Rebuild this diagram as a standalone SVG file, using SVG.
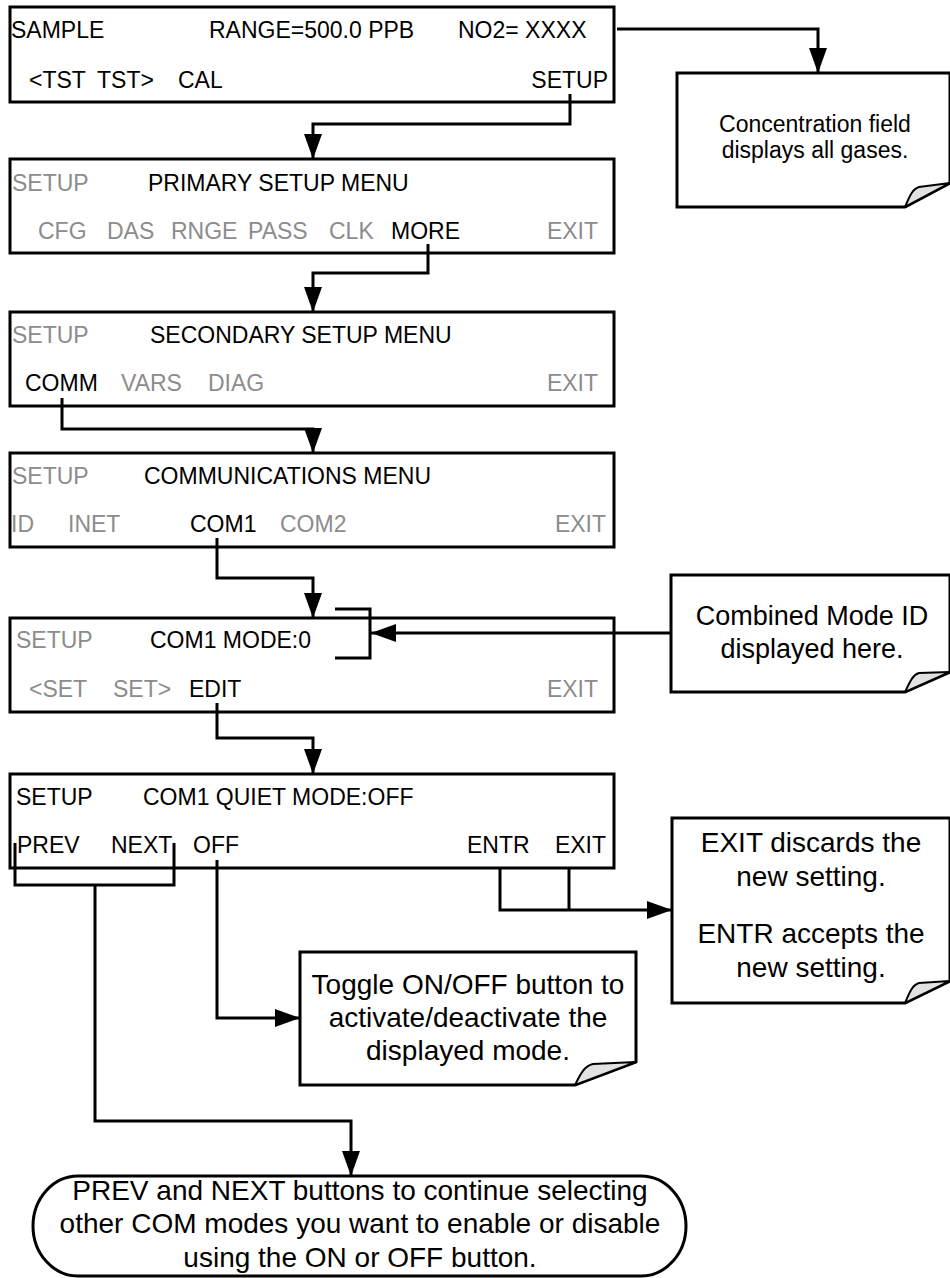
<svg xmlns="http://www.w3.org/2000/svg" width="950" height="1278" viewBox="0 0 950 1278">
<style>
text{font-family:"Liberation Sans",Arial,sans-serif;fill:#000}
.b{font-size:23px}
.g{fill:#8c8c8c}
.box{fill:#fff;stroke:#000;stroke-width:3}
.ln{fill:none;stroke:#000;stroke-width:3}
.curl{fill:#e2e2e2;stroke:#000;stroke-width:2;stroke-linejoin:round}
.c1{font-size:23px}
.c2{font-size:27px}
.c3{font-size:28px}
</style>
<defs>
<marker id="ah" viewBox="0 0 25 18" refX="25" refY="9" markerWidth="25" markerHeight="18" markerUnits="userSpaceOnUse" orient="auto">
<path d="M0,0 L25,9 L0,18 Z" fill="#000"/>
</marker>
</defs>

<g id="box-sample">
<rect class="box" x="10" y="7" width="604" height="95"/>
<text class="b" x="11" y="38">SAMPLE</text>
<text class="b" x="209" y="38">RANGE=500.0 PPB</text>
<text class="b" x="458" y="38">NO2= XXXX</text>
<text class="b" x="29" y="88">&lt;TST</text>
<text class="b" x="97" y="88">TST&gt;</text>
<text class="b" x="178" y="88">CAL</text>
<text class="b" x="608" y="88" text-anchor="end">SETUP</text>
</g>

<g id="box-primary">
<rect class="box" x="10" y="159" width="604" height="94"/>
<text class="b g" x="12" y="191">SETUP</text>
<text class="b" x="148" y="191">PRIMARY SETUP MENU</text>
<text class="b g" x="38" y="239">CFG</text>
<text class="b g" x="107" y="239">DAS</text>
<text class="b g" x="171" y="239">RNGE</text>
<text class="b g" x="248" y="239">PASS</text>
<text class="b g" x="329" y="239">CLK</text>
<text class="b" x="391" y="239">MORE</text>
<text class="b g" x="598" y="239" text-anchor="end">EXIT</text>
</g>

<g id="box-secondary">
<rect class="box" x="10" y="312" width="604" height="94"/>
<text class="b g" x="12" y="343">SETUP</text>
<text class="b" x="150" y="343">SECONDARY SETUP MENU</text>
<text class="b" x="25" y="391">COMM</text>
<text class="b g" x="121" y="391">VARS</text>
<text class="b g" x="208" y="391">DIAG</text>
<text class="b g" x="598" y="391" text-anchor="end">EXIT</text>
</g>

<g id="box-comm">
<rect class="box" x="10" y="453" width="604" height="94"/>
<text class="b g" x="12" y="484">SETUP</text>
<text class="b" x="144" y="484">COMMUNICATIONS MENU</text>
<text class="b g" x="11" y="532">ID</text>
<text class="b g" x="68" y="532">INET</text>
<text class="b" x="190" y="532">COM1</text>
<text class="b g" x="280" y="532">COM2</text>
<text class="b g" x="606" y="532" text-anchor="end">EXIT</text>
</g>

<g id="box-com1mode">
<rect class="box" x="10" y="618" width="604" height="94"/>
<text class="b g" x="16" y="648">SETUP</text>
<text class="b" x="150" y="648">COM1 MODE:0</text>
<text class="b g" x="29" y="697">&lt;SET</text>
<text class="b g" x="113" y="697">SET&gt;</text>
<text class="b" x="189" y="697">EDIT</text>
<text class="b g" x="598" y="697" text-anchor="end">EXIT</text>
</g>

<g id="box-quiet">
<rect class="box" x="10" y="774" width="604" height="94"/>
<text class="b" x="16" y="805">SETUP</text>
<text class="b" x="143" y="805">COM1 QUIET MODE:OFF</text>
<text class="b" x="17" y="853">PREV</text>
<text class="b" x="111" y="853">NEXT</text>
<text class="b" x="193" y="853">OFF</text>
<text class="b" x="467" y="853">ENTR</text>
<text class="b" x="606" y="853" text-anchor="end">EXIT</text>
</g>

<g id="note-concentration">
<path class="box" d="M677,73 H950 V183 L905,207 H677 Z"/>
<path class="curl" d="M905,207 C909,198 912,189 919,187 L950,183 Z"/>
<text class="c1" x="815" y="132" text-anchor="middle">Concentration field</text>
<text class="c1" x="815" y="158" text-anchor="middle">displays all gases.</text>
</g>

<g id="note-modeid">
<path class="box" d="M671,575 H950 V672 L905,692 H671 Z"/>
<path class="curl" d="M905,692 C909,684 912,675 919,673 L950,672 Z"/>
<text class="c2" x="812" y="625" text-anchor="middle">Combined Mode ID</text>
<text class="c2" x="812" y="658" text-anchor="middle">displayed here.</text>
</g>

<g id="note-exit">
<path class="box" d="M672,818 H950 V981 L905,1003 H672 Z"/>
<path class="curl" d="M905,1003 C909,994 912,985 919,983 L950,981 Z"/>
<text class="c3" x="811" y="852" text-anchor="middle">EXIT discards the</text>
<text class="c3" x="811" y="886" text-anchor="middle">new setting.</text>
<text class="c3" x="811" y="943" text-anchor="middle">ENTR accepts the</text>
<text class="c3" x="811" y="977" text-anchor="middle">new setting.</text>
</g>

<g id="note-toggle">
<path class="box" d="M300,952 H636 V1062 L575,1085 H300 Z"/>
<path class="curl" d="M575,1085 C580,1075 584,1066 593,1064 L636,1062 Z"/>
<text class="c3" x="468" y="994" text-anchor="middle">Toggle ON/OFF button to</text>
<text class="c3" x="468" y="1027" text-anchor="middle">activate/deactivate the</text>
<text class="c3" x="468" y="1060" text-anchor="middle">displayed mode.</text>
</g>

<g id="terminal-prevnext">
<rect class="box" x="33" y="1176" width="653" height="100" rx="45" ry="50"/>
<text class="c3" x="360" y="1200" text-anchor="middle">PREV and NEXT buttons to continue selecting</text>
<text class="c3" x="360" y="1233" text-anchor="middle">other COM modes you want to enable or disable</text>
<text class="c3" x="360" y="1267" text-anchor="middle">using the ON or OFF button.</text>
</g>

<g id="connectors">
<path class="ln" d="M617,29 H818 V73" marker-end="url(#ah)"/>
<path class="ln" d="M570,94 V124 H313 V159" marker-end="url(#ah)"/>
<path class="ln" d="M428,244 V273 H313 V312" marker-end="url(#ah)"/>
<path class="ln" d="M62,398 V429 H313 V453" marker-end="url(#ah)"/>
<path class="ln" d="M217,538 V578 H313 V618" marker-end="url(#ah)"/>
<path class="ln" d="M335,609 H370 V658 H335"/>
<path class="ln" d="M671,633 H371" marker-end="url(#ah)"/>
<path class="ln" d="M217,703 V738 H313 V774" marker-end="url(#ah)"/>
<path class="ln" d="M500,868 V910 H672" marker-end="url(#ah)"/>
<path class="ln" d="M569,868 V910"/>
<path class="ln" d="M217,860 V1018 H300" marker-end="url(#ah)"/>
<path class="ln" d="M15,843 V885 H174 V843"/>
<path class="ln" d="M95,885 V1121 H351 V1176" marker-end="url(#ah)"/>
</g>
</svg>
